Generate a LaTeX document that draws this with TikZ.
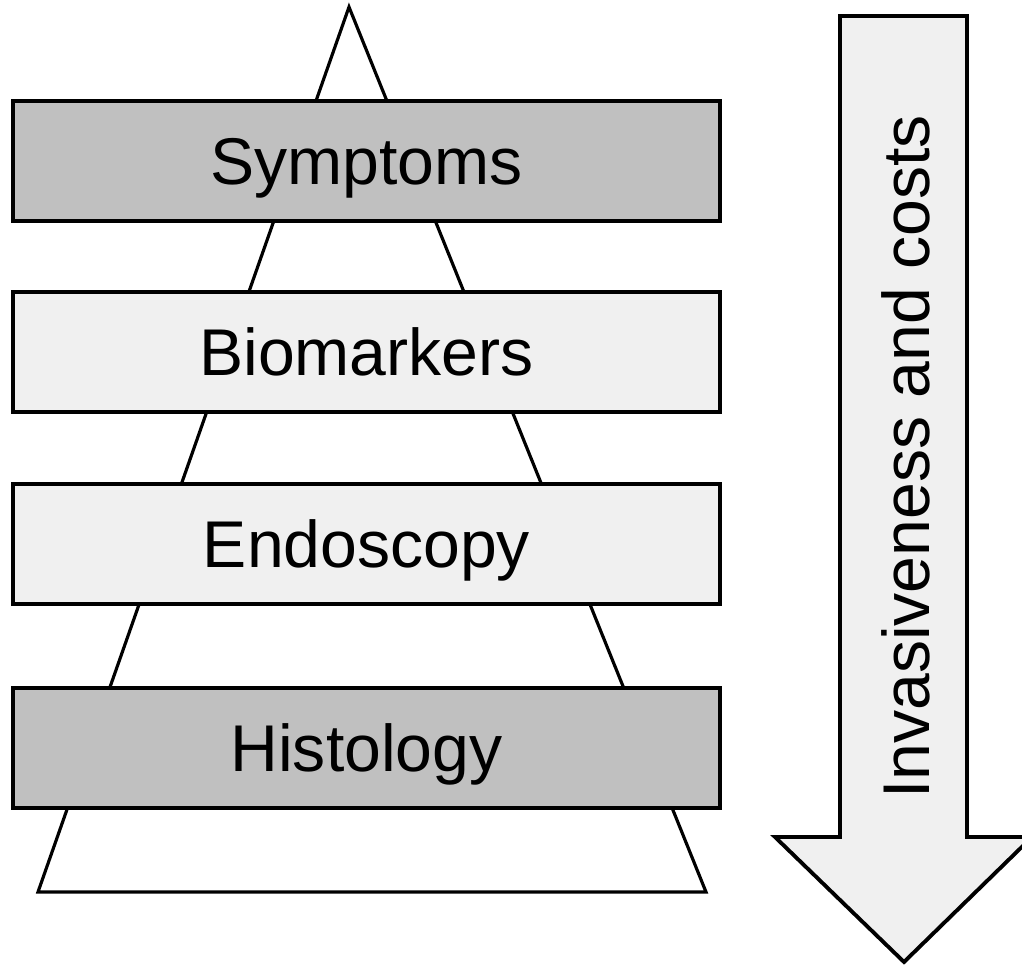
\documentclass[tikz,border=0pt]{standalone}
\usepackage{fontspec}
\setmainfont{Liberation Sans}
\definecolor{darkbox}{HTML}{C0C0C0}
\definecolor{lightbox}{HTML}{F0F0F0}
\tikzset{
  level/.style={draw, line width=1.1pt, minimum width=7.07cm, minimum height=1.2cm,
    inner sep=0pt, text height=13.5pt, text depth=0pt,
    font=\fontsize{18.8}{22}\selectfont},
}
\begin{document}
\begin{tikzpicture}[x=0.01cm, y=-0.01cm]
      \useasboundingbox (0,0) rectangle (1022,965);

      % Draw the pyramid behind the levels
      \draw[line width=0.9pt, fill=white] (349,7) -- (706,892) -- (38,892) -- cycle;

      % Add the levels on top of the pyramid
      \foreach \name/\y/\col in {Symptoms/161/darkbox, Biomarkers/352/lightbox,
                                 Endoscopy/544/lightbox, Histology/748/darkbox} {
          \node[level, fill=\col] (\name) at (366.5,\y) {\name};
      }

      % Big arrow on the right
      \draw[line width=1.1pt, fill=lightbox] (840,16) -- (967,16) -- (967,837) -- (1032,837)
          -- (904,962) -- (775,837) -- (840,837) -- cycle;
      \node[rotate=90, anchor=base, inner sep=0pt, font=\fontsize{18.8}{22}\selectfont]
          (costs) at (929,457) {Invasiveness and costs};
    \end{tikzpicture}
\end{document}
